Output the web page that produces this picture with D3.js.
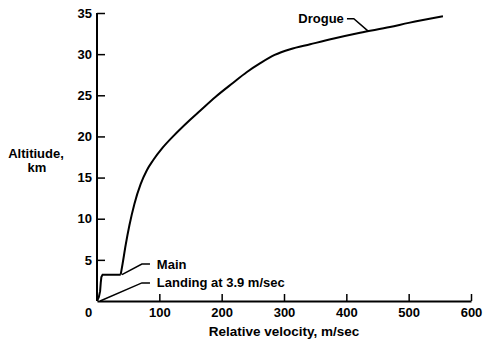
<!DOCTYPE html>
<html>
<head>
<meta charset="utf-8">
<script src="https://cdn.jsdelivr.net/npm/d3@7"></script>
<style>
  body { margin: 0; background: #fff; }
  svg text { font-family: "Liberation Sans", Arial, sans-serif; font-weight: bold; fill: #000; }
</style>
</head>
<body>
<svg width="483" height="343"></svg>
<script>
// velocity (m/sec), altitude (km)
var mainVel = [0, 3, 5, 6, 7, 9, 20, 38];
var mainAlt = [0, 0.5, 1.2, 2.2, 2.9, 3.2, 3.2, 3.2];

var drogueVel = [38, 41, 46, 52, 60, 70, 80, 90, 105, 122, 149, 165, 190, 218, 240, 262, 285, 310, 342, 380, 422, 470, 500, 555];
var drogueAlt = [3.2, 4.5, 6.8, 9.2, 11.8, 14.2, 15.9, 17.1, 18.6, 20, 22.0, 23.1, 24.8, 26.5, 27.8, 28.9, 29.9, 30.6, 31.2, 31.9, 32.6, 33.3, 33.8, 34.6];

var xTicks = [0, 100, 200, 300, 400, 500, 600];
var yTicks = [5, 10, 15, 20, 25, 30, 35];

// label leaders: [vel, alt] points
var mainLeader = [[40, 3.2], [72, 4.5], [85, 4.5]];
var landingLeader = [[5, 0], [72, 2.2], [85, 2.2]];
var drogueLeader = [[435, 32.8], [412, 34.3], [401, 34.3]];

var svg = d3.select("svg");

var x = d3.scaleLinear().domain([0, 600]).range([97, 471]),
    y = d3.scaleLinear().domain([0, 35]).range([301, 13]);

var line = d3.line()
    .x(function(d) { return x(d[0]); })
    .y(function(d) { return y(d[1]); });

// x axis
var xAxis = svg.append("g")
    .attr("transform", "translate(0," + y(0) + ")")
    .call(d3.axisBottom(x).tickValues(xTicks).tickSizeInner(-7).tickSizeOuter(0).tickPadding(7));
xAxis.select(".domain").attr("stroke-width", 2);
xAxis.selectAll(".tick line").attr("stroke-width", 1.5);
xAxis.selectAll(".tick text").attr("font-size", 13).attr("font-family", null);
xAxis.selectAll(".tick").filter(function(d) { return d === 0; })
    .select("text").attr("dx", -9);
xAxis.selectAll(".tick").filter(function(d) { return d === 0; })
    .select("line").remove();

// y axis
var yAxis = svg.append("g")
    .attr("transform", "translate(" + x(0) + ",0)")
    .call(d3.axisLeft(y).tickValues(yTicks).tickSizeInner(-8).tickSizeOuter(0).tickPadding(5));
yAxis.select(".domain").attr("stroke-width", 2)
    .attr("d", "M0," + y(0) + "V" + y(35));
yAxis.selectAll(".tick line").attr("stroke-width", 1.5);
yAxis.selectAll(".tick text").attr("font-size", 13).attr("font-family", null)
    .attr("x", -5);

// curves
var mainData = mainVel.map(function(v, i) { return [v, mainAlt[i]]; });
var drogueData = drogueVel.map(function(v, i) { return [v, drogueAlt[i]]; });

svg.append("path")
    .datum(mainData)
    .attr("fill", "none")
    .attr("stroke", "#000")
    .attr("stroke-width", 2)
    .attr("d", line);

svg.append("path")
    .datum(drogueData)
    .attr("fill", "none")
    .attr("stroke", "#000")
    .attr("stroke-width", 2)
    .attr("d", line.curve(d3.curveMonotoneX));

line.curve(d3.curveLinear);

// leaders
[mainLeader, landingLeader, drogueLeader].forEach(function(pts) {
    svg.append("path")
        .datum(pts)
        .attr("fill", "none")
        .attr("stroke", "#000")
        .attr("stroke-width", 1.5)
        .attr("d", line);
});

svg.append("text")
    .attr("x", x(96)).attr("y", y(4.5)).attr("dy", "0.35em")
    .attr("font-size", 13)
    .text("Main");

svg.append("text")
    .attr("x", x(96)).attr("y", y(2.2)).attr("dy", "0.35em")
    .attr("font-size", 13)
    .text("Landing at 3.9 m/sec");

svg.append("text")
    .attr("x", x(396)).attr("y", y(34.3)).attr("dy", "0.35em")
    .attr("text-anchor", "end")
    .attr("font-size", 13)
    .text("Drogue");

// axis titles
svg.append("text")
    .attr("x", 284).attr("y", 336)
    .attr("text-anchor", "middle")
    .attr("font-size", 13.5)
    .text("Relative velocity, m/sec");

svg.append("text")
    .attr("x", 36).attr("y", 158)
    .attr("text-anchor", "middle")
    .attr("font-size", 13)
    .text("Altitiude,");

svg.append("text")
    .attr("x", 37).attr("y", 172)
    .attr("text-anchor", "middle")
    .attr("font-size", 13)
    .text("km");
</script>
</body>
</html>
